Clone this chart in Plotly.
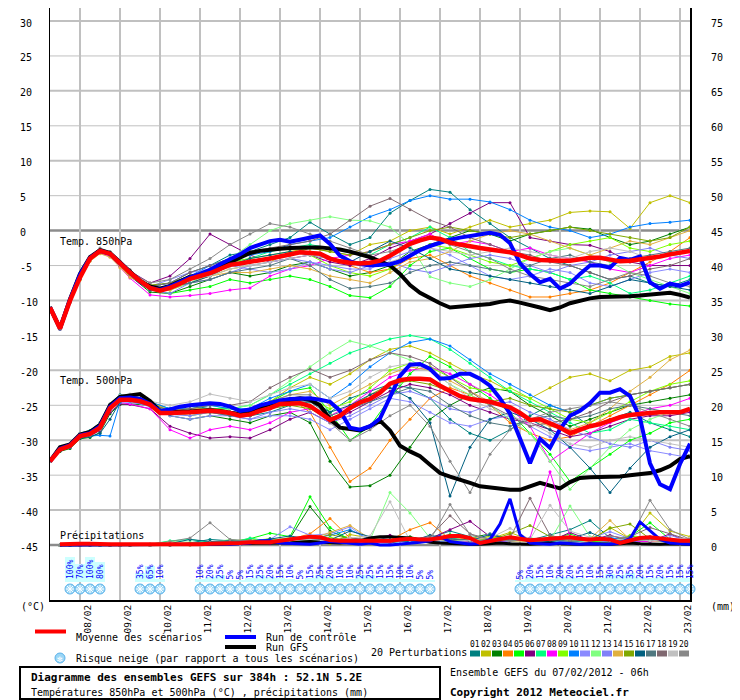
import plotly.graph_objects as go

# -------------------------------------------------
# données : diagramme des ensembles GEFS 07/02/2012 06h, 52.1N 5.2E
# -------------------------------------------------
DAY_LABELS = ["08/02", "09/02", "10/02", "11/02", "12/02", "13/02", "14/02", "15/02",
              "16/02", "17/02", "18/02", "19/02", "20/02", "21/02", "22/02", "23/02"]

# échéances des perturbations (h)
PERT_HOURS = [0, 6, 12, 18, 24, 30, 36, 42, 48, 60, 72, 84, 96, 108, 120, 132, 144, 156,
              168, 180, 192, 204, 216, 228, 240, 252, 264, 276, 288, 300, 312, 324, 336,
              348, 360, 372, 384]

PERT_COLORS = ["#008080", "#c0c000", "#008000", "#ff8000", "#00ff00", "#800080", "#00ff80",
               "#ff00ff", "#80ff00", "#0080ff", "#8a8aff", "#80ff80", "#8080f8", "#e0b040",
               "#80a800", "#006080", "#507880", "#806870", "#c0c0c0", "#888888"]

# moyenne / contrôle / GFS, pas de 6h à partir de 0h
MEAN_850 = [-11.0, -14.0, -10.0, -6.7, -4.0, -2.9, -3.3, -4.7, -6.0, -7.2,
            -8.2, -8.6, -8.2, -7.6, -6.9, -6.5, -6.1, -5.5, -4.9, -4.7,
            -4.5, -4.3, -4.0, -3.7, -3.4, -3.1, -3.2, -3.3, -4.0, -4.4,
            -4.6, -4.7, -4.6, -4.3, -3.6, -2.7, -1.9, -1.4, -1.0, -1.2,
            -1.7, -2.0, -2.3, -2.5, -2.7, -2.9, -3.1, -3.5, -4.0, -4.2,
            -4.3, -4.3, -4.3, -4.1, -3.9, -3.9, -4.2, -4.4, -4.3, -4.1,
            -4.0, -3.7, -3.4, -3.1, -2.9]
CONTROL_850 = [-11.0, -14.0, -9.9, -6.3, -3.9, -2.9, -3.3, -4.7, -6.1, -7.3,
               -8.2, -8.5, -8.0, -7.3, -6.7, -6.2, -5.6, -4.8, -4.1, -3.4,
               -2.5, -2.0, -1.5, -1.3, -1.6, -1.3, -1.0, -0.7, -1.9, -3.6,
               -4.4, -4.8, -5.0, -4.9, -4.8, -4.4, -3.6, -2.8, -2.2, -1.7,
               -1.3, -1.0, -0.8, -0.5, -0.3, -0.6, -1.8, -4.7, -6.2, -7.4,
               -6.9, -8.3, -7.6, -6.2, -5.0, -5.0, -5.3, -3.9, -4.2, -3.7,
               -7.4, -8.3, -7.6, -7.9, -7.4]
GFS_850 = [-11.0, -14.0, -9.8, -6.2, -3.8, -2.8, -3.2, -4.6, -6.0, -7.2,
           -8.0, -8.3, -7.9, -7.2, -6.6, -6.4, -6.0, -5.2, -4.5, -3.8,
           -3.2, -2.9, -2.7, -2.6, -2.5, -2.4, -2.4, -2.4, -2.5, -2.7,
           -3.0, -3.4, -3.8, -4.4, -5.0, -6.2, -7.8, -8.9, -9.7, -10.4,
           -11.0, -10.9, -10.7, -10.6, -10.5, -10.2, -10.0, -10.3, -10.6, -11.0,
           -11.4, -11.0, -10.4, -10.0, -9.7, -9.5, -9.5, -9.5, -9.4, -9.3,
           -9.2, -9.0, -8.9, -9.2, -9.6]

MEAN_500 = [-33.0, -31.3, -30.8, -29.4, -29.1, -28.2, -25.4, -24.2, -24.2, -24.4,
            -24.9, -26.1, -26.1, -26.1, -26.0, -25.9, -25.8, -25.9, -26.1, -26.5,
            -26.3, -25.8, -25.4, -24.8, -24.8, -24.7, -25.1, -26.2, -27.1, -26.5,
            -25.4, -24.6, -24.1, -23.2, -21.9, -21.4, -21.2, -21.2, -21.3, -22.2,
            -23.0, -23.7, -24.1, -24.3, -24.5, -24.9, -25.3, -26.1, -27.1, -27.0,
            -27.6, -28.2, -29.0, -28.5, -28.0, -27.7, -27.2, -26.7, -26.4, -26.2,
            -26.1, -26.0, -26.0, -26.0, -25.5]
CONTROL_500 = [-33.0, -31.2, -30.7, -29.3, -29.0, -28.0, -25.2, -24.0, -23.9, -24.1,
               -24.8, -25.8, -25.6, -25.2, -25.0, -24.8, -24.7, -24.8, -25.2, -25.8,
               -25.6, -25.0, -24.6, -24.3, -24.1, -24.0, -24.0, -24.2, -24.5, -25.8,
               -28.2, -28.5, -28.0, -26.9, -24.0, -20.8, -19.2, -19.1, -19.8, -21.2,
               -21.1, -20.5, -20.5, -21.2, -22.2, -24.0, -26.2, -29.7, -33.3, -29.8,
               -31.1, -28.4, -26.5, -25.8, -24.7, -23.2, -23.2, -22.7, -23.7, -26.8,
               -33.3, -36.3, -37.0, -33.4, -30.5]
GFS_500 = [-33.0, -31.0, -30.6, -29.2, -28.8, -27.8, -25.0, -23.8, -23.6, -23.4,
           -24.4, -25.8, -26.0, -26.0, -25.9, -25.8, -25.7, -25.8, -26.0, -26.3,
           -26.0, -25.3, -24.8, -24.6, -24.2, -24.0, -24.2, -25.0, -27.0, -28.2,
           -28.4, -28.6, -28.0, -27.2, -28.6, -30.8, -31.6, -32.3, -33.5, -34.7,
           -35.2, -35.6, -36.1, -36.6, -36.8, -37.0, -37.1, -37.1, -36.6, -36.1,
           -36.5, -36.9, -36.0, -35.4, -35.3, -35.3, -35.3, -35.2, -35.0, -34.9,
           -34.7, -34.3, -33.7, -32.7, -32.3]

# précipitations (mm), pas de 6h à partir de 6h
MEAN_PR = [0.1, 0.2, 0.2, 0.2, 0.1, 0.1, 0.1, 0.1, 0.1, 0.0,
           0.1, 0.1, 0.0, 0.0, 0.1, 0.2, 0.2, 0.3, 0.3, 0.4,
           0.4, 0.4, 0.6, 0.8, 0.9, 1.2, 1.1, 0.7, 0.6, 0.6,
           0.6, 0.6, 0.5, 0.6, 0.8, 0.9, 0.8, 0.8, 1.0, 1.3,
           1.3, 1.0, 0.3, 0.6, 0.9, 1.1, 0.9, 0.7, 0.8, 0.9,
           1.0, 1.1, 0.9, 0.8, 0.9, 0.8, 0.3, 0.7, 1.0, 1.1,
           0.9, 0.8, 0.6, 0.6]
CONTROL_PR = [0.0, 0.0, 0.0, 0.0, 0.0, 0.0, 0.0, 0.0, 0.0, 0.0,
              0.0, 0.0, 0.0, 0.0, 0.0, 0.1, 0.2, 0.1, 0.2, 0.3,
              0.6, 0.6, 0.3, 0.2, 0.2, 0.1, 0.3, 0.5, 0.4, 0.2,
              0.1, 0.3, 0.0, 0.0, 0.1, 0.2, 0.4, 0.6, 1.2, 0.5,
              0.3, 0.1, 0.2, 0.8, 3.0, 6.6, 1.5, 0.3, 0.2, 0.1,
              0.3, 0.2, 0.1, 0.2, 0.2, 0.1, 0.3, 0.9, 3.3, 2.0,
              0.8, 0.3, 0.2, 0.1]
GFS_PR = [0.0, 0.0, 0.0, 0.0, 0.1, 0.1, 0.1, 0.1, 0.1, 0.0,
          0.0, 0.0, 0.0, 0.0, 0.0, 0.1, 0.1, 0.2, 0.2, 0.3,
          0.3, 0.2, 0.2, 0.3, 0.4, 0.5, 0.4, 0.3, 0.3, 0.4,
          0.6, 1.0, 1.2, 1.2, 1.1, 1.0, 0.7, 0.4, 0.3, 0.2,
          0.2, 0.1, 0.1, 0.2, 0.3, 0.2, 0.1, 0.1, 0.2, 0.3,
          0.2, 0.1, 0.1, 0.2, 0.1, 0.1, 0.2, 0.3, 0.2, 0.1,
          0.1, 0.2, 0.1, 0.1]

# 20 perturbations, température 850 hPa aux échéances PERT_HOURS
T850_MEMBERS = [
    [-11.0, -14.0, -10.2, -6.8, -4.1, -3.0, -3.5, -4.9, -6.3, -8.0, -7.5, -6.0, -5.0, -3.5, -3.0, -2.0, -1.0, 1.2, -0.5, -2.0, -1.0, 2.5, 4.3, 5.9, 5.5, 3.0, 1.0, -1.0, -2.5, -4.0, -5.0, -6.0, -7.0, -6.5, -7.5, -8.0, -7.0],
    [-11.0, -13.8, -9.8, -6.5, -3.8, -2.7, -3.1, -4.5, -5.8, -8.5, -8.0, -7.0, -6.5, -5.5, -5.0, -4.5, -3.0, -2.5, -3.0, -3.5, -2.0, -1.5, 0.0, 0.5, -0.5, 0.5, 1.5, 0.5, 1.0, 1.5, 2.6, 2.8, 2.7, 0.3, 4.0, 5.0, 4.0],
    [-11.0, -14.1, -10.3, -7.0, -4.3, -3.2, -3.6, -5.1, -6.5, -8.8, -9.0, -8.0, -7.0, -6.0, -6.5, -6.0, -5.0, -4.5, -5.5, -6.5, -6.0, -5.0, -3.0, -2.0, -1.0, 0.0, -0.5, -1.5, -0.5, 0.0, 0.5, 0.2, -1.0, -2.0, -1.5, -0.5, 0.5],
    [-11.0, -13.9, -9.9, -6.6, -3.9, -2.8, -3.4, -5.0, -6.6, -8.0, -8.5, -7.5, -6.5, -5.0, -4.5, -4.0, -3.5, -3.0, -4.0, -5.0, -6.0, -5.5, -4.0, -3.5, -5.0, -6.5, -7.5, -8.5, -9.5, -9.5, -9.0, -8.5, -7.5, -6.0, -4.5, -3.0, -1.0],
    [-11.0, -14.0, -10.0, -6.7, -4.0, -2.9, -3.2, -4.6, -5.9, -8.5, -9.0, -8.5, -8.0, -7.0, -7.5, -7.0, -6.5, -7.0, -8.0, -9.3, -9.6, -8.0, -5.0, -3.0, -2.5, -4.0, -5.5, -6.0, -5.5, -6.0, -7.0, -8.5, -9.0, -9.5, -10.0, -10.5, -10.8],
    [-11.0, -14.0, -10.1, -6.9, -4.2, -3.1, -3.4, -4.7, -5.8, -7.5, -6.5, -4.0, -0.5, -2.0, -3.5, -4.5, -4.0, -3.5, -4.5, -5.0, -4.0, -2.5, -1.5, -0.5, 1.0, 2.5, 4.0, 4.0, -1.0, -1.5, -2.0, -2.1, -3.0, -4.5, -5.0, -5.0, -5.0],
    [-11.0, -13.9, -9.9, -6.6, -3.9, -2.7, -3.2, -4.7, -6.1, -8.0, -8.0, -6.5, -5.5, -4.5, -4.0, -3.0, -2.5, -2.0, -2.5, -3.0, -3.5, -2.0, -1.0, 0.5, -1.0, -3.0, -4.0, -5.0, -5.5, -6.0, -7.0, -6.5, -7.5, -9.0, -8.5, -7.5, -6.5],
    [-11.0, -14.1, -10.2, -6.9, -4.2, -3.2, -3.7, -5.2, -6.8, -9.2, -9.5, -9.3, -9.0, -8.5, -8.2, -6.5, -5.5, -5.0, -4.0, -3.5, -3.0, -2.0, -1.5, -0.5, -2.0, -1.5, -2.0, -3.0, -2.5, -3.5, -4.0, -4.5, -5.5, -6.0, -5.0, -4.0, -3.5],
    [-11.0, -14.0, -10.0, -6.6, -3.9, -2.8, -3.2, -4.5, -5.7, -8.5, -8.0, -7.0, -6.0, -4.5, -4.0, -3.5, -3.0, -3.5, -5.0, -6.0, -6.5, -5.5, -3.5, -2.0, -2.5, -3.5, -4.5, -5.0, -4.0, -3.0, -2.0, -1.5, -1.0, -2.5, -3.0, -2.0, -1.5],
    [-11.0, -14.0, -10.1, -6.8, -4.0, -2.9, -3.3, -4.6, -5.9, -8.0, -7.5, -6.5, -5.0, -4.0, -3.5, -3.0, -2.0, -1.5, -1.0, 0.5, 2.0, 3.0, 4.3, 5.0, 4.5, 4.5, 4.1, 3.0, 1.5, 0.5, 0.0, -1.0, -0.5, 0.5, 1.0, 1.2, 1.5],
    [-11.0, -13.9, -9.8, -6.5, -3.8, -2.8, -3.3, -4.8, -6.2, -8.0, -7.0, -6.0, -5.5, -5.0, -5.5, -6.0, -5.5, -4.5, -5.0, -5.5, -5.5, -4.0, -3.0, -2.5, -3.5, -5.0, -6.5, -7.0, -6.5, -5.5, -6.0, -7.5, -8.0, -7.0, -6.0, -5.5, -6.0],
    [-11.0, -14.0, -10.0, -6.7, -4.1, -3.0, -3.4, -4.8, -6.1, -8.3, -8.5, -7.5, -6.0, -4.0, -2.0, 0.0, 1.0, 1.5, 2.0, 1.5, 1.4, 0.5, -2.0, -6.6, -7.5, -8.0, -7.0, -5.5, -4.0, -3.0, -2.5, -3.5, -4.5, -6.0, -7.0, -8.0, -9.0],
    [-11.0, -14.1, -10.1, -6.8, -4.0, -2.9, -3.2, -4.5, -5.8, -8.5, -9.0, -7.5, -7.0, -6.0, -5.0, -4.5, -4.0, -4.5, -5.5, -6.0, -5.0, -4.5, -5.5, -6.0, -5.0, -4.0, -3.5, -4.0, -5.0, -6.0, -5.0, -4.5, -3.5, -3.0, -2.5, -3.5, -4.0],
    [-11.0, -14.0, -10.3, -7.1, -4.4, -3.3, -3.8, -5.3, -6.7, -8.0, -8.5, -7.0, -6.5, -6.0, -6.0, -5.5, -5.0, -5.5, -6.5, -7.0, -7.5, -6.0, -4.5, -4.0, -3.0, -1.5, -0.5, 0.0, -0.5, -1.5, -2.5, -3.5, -2.5, -1.5, -2.0, -1.0, 0.0],
    [-11.0, -13.9, -9.9, -6.6, -3.9, -2.9, -3.3, -4.7, -6.0, -7.8, -7.5, -6.5, -5.5, -4.5, -4.5, -4.0, -3.5, -2.5, -3.0, -3.5, -3.0, -2.0, -1.0, 0.0, 0.5, 0.0, -0.5, -1.0, -0.5, 0.0, 0.5, 0.0, -0.5, -1.0, -1.5, -1.0, 0.5],
    [-11.0, -14.0, -10.0, -6.7, -4.0, -3.0, -3.3, -4.6, -5.9, -8.5, -8.0, -7.5, -6.5, -5.0, -4.0, -3.5, -3.0, -3.5, -4.0, -4.5, -3.0, -1.5, -2.5, -4.0, -5.5, -6.0, -6.5, -7.0, -7.5, -8.0, -8.5, -9.0, -8.0, -7.0, -7.5, -8.0, -8.5],
    [-11.0, -14.1, -10.2, -6.9, -4.1, -3.0, -3.5, -4.9, -6.2, -8.2, -8.0, -7.5, -7.0, -6.0, -5.5, -5.0, -4.0, -5.0, -7.0, -8.3, -8.0, -7.5, -6.0, -5.0, -4.5, -5.0, -5.5, -6.0, -5.0, -4.0, -3.5, -4.5, -5.0, -4.0, -3.5, -3.0, -2.5],
    [-11.0, -13.9, -9.9, -6.6, -3.8, -2.7, -3.1, -4.4, -5.6, -8.0, -7.5, -6.0, -5.0, -4.0, -3.0, -2.5, -2.0, -1.5, -0.5, 1.5, 3.5, 4.6, 3.0, 1.5, 0.5, -1.0, -2.0, -3.0, -3.5, -4.5, -5.0, -6.0, -7.0, -6.5, -5.5, -5.0, -4.0],
    [-11.0, -14.0, -10.0, -6.7, -3.9, -2.8, -3.2, -4.6, -5.9, -8.0, -8.0, -7.0, -6.5, -5.5, -5.0, -4.5, -4.0, -3.5, -4.0, -4.5, -5.0, -4.5, -3.5, -2.5, -3.0, -3.5, -3.0, -2.5, -3.0, -3.5, -4.0, -3.0, -2.5, -3.0, -4.0, -3.5, -3.0],
    [-11.0, -14.0, -10.1, -6.8, -3.7, -2.5, -3.0, -4.6, -6.0, -7.5, -7.0, -5.5, -4.0, -2.0, -0.5, 1.0, 0.5, -0.5, -1.5, -2.5, -3.5, -3.0, -2.0, -1.0, -2.0, -3.0, -4.0, -5.5, -6.5, -7.0, -7.5, -8.0, -7.0, -6.0, -6.5, -7.5, -8.0],
]

# 20 perturbations, température 500 hPa aux échéances PERT_HOURS
T500_MEMBERS = [
    [-33.0, -31.0, -30.6, -29.0, -28.6, -27.5, -24.8, -23.5, -23.6, -24.5, -25.5, -25.0, -25.5, -26.0, -26.5, -26.0, -25.0, -24.5, -26.0, -24.0, -23.0, -22.0, -22.5, -24.0, -27.0, -29.0, -30.0, -28.5, -26.5, -25.0, -26.0, -28.0, -27.0, -26.0, -27.5, -28.5, -29.5],
    [-33.0, -31.4, -30.9, -29.5, -29.3, -28.5, -25.8, -24.5, -24.4, -25.0, -26.0, -26.5, -26.0, -26.5, -26.0, -24.5, -22.5, -21.0, -22.0, -20.5, -18.5, -17.0, -16.5, -17.5, -19.0, -20.5, -21.5, -23.0, -24.0, -22.5, -21.0, -20.5, -21.5, -20.0, -19.5, -18.0, -17.5],
    [-33.0, -31.6, -31.2, -29.8, -29.6, -28.9, -26.2, -24.9, -24.8, -25.0, -26.5, -27.0, -26.5, -27.0, -27.5, -26.5, -26.0, -27.5, -33.0, -36.7, -36.5, -35.0, -31.0, -27.0, -25.0, -23.5, -22.5, -23.0, -25.0, -26.5, -28.0, -27.0, -26.0, -25.0, -24.5, -24.0, -23.5],
    [-33.0, -31.2, -30.7, -29.3, -29.0, -28.0, -25.2, -24.0, -24.1, -24.8, -26.0, -26.0, -25.5, -26.0, -26.5, -25.0, -24.0, -26.0, -31.0, -35.9, -34.0, -30.0, -27.0, -24.0, -22.5, -23.5, -25.0, -27.5, -29.0, -30.0, -29.5, -28.0, -26.5, -25.0, -23.5, -22.0, -20.0],
    [-33.0, -31.3, -30.8, -29.4, -29.2, -28.4, -25.6, -24.4, -24.3, -24.6, -25.8, -26.0, -25.5, -25.5, -26.0, -24.5, -23.0, -22.5, -26.0, -30.0, -28.0, -24.0, -20.5, -18.0, -19.5, -22.0, -24.0, -26.0, -29.0, -32.0, -35.9, -34.0, -32.0, -30.0, -29.0, -27.5, -27.0],
    [-33.0, -31.5, -31.0, -29.6, -29.4, -28.6, -26.0, -24.8, -24.9, -25.5, -28.0, -29.0, -29.7, -29.5, -29.7, -28.5, -27.0, -26.0, -27.5, -26.0, -24.5, -23.0, -22.0, -22.5, -23.5, -25.0, -26.0, -27.0, -27.5, -28.5, -29.5, -29.0, -28.0, -27.0, -26.5, -26.5, -26.0],
    [-33.0, -31.1, -30.6, -29.2, -28.9, -27.9, -25.1, -23.9, -23.9, -24.8, -25.5, -25.5, -25.0, -25.5, -25.0, -23.5, -22.0, -20.5, -19.0, -17.5, -16.5, -15.5, -15.0, -15.5, -17.0, -19.0, -21.0, -23.0, -24.5, -26.0, -27.5, -29.0, -28.5, -27.0, -27.5, -28.0, -28.5],
    [-33.0, -31.4, -30.9, -29.5, -29.2, -28.3, -25.6, -24.6, -24.8, -25.5, -28.5, -29.7, -28.5, -28.0, -28.5, -27.5, -26.0, -25.5, -26.5, -25.0, -23.0, -21.0, -20.0, -19.5, -20.5, -22.0, -23.5, -25.5, -28.0, -33.0, -31.0, -29.0, -27.5, -26.5, -25.5, -25.0, -24.0],
    [-33.0, -31.2, -30.7, -29.3, -29.0, -28.1, -25.3, -24.1, -24.1, -24.7, -25.8, -25.5, -25.5, -26.0, -26.0, -25.0, -24.5, -24.0, -25.5, -24.5, -22.5, -20.0, -19.0, -19.5, -21.0, -22.5, -23.0, -22.5, -24.0, -25.5, -27.0, -27.5, -26.0, -24.5, -23.0, -22.0, -21.5],
    [-33.0, -31.3, -30.9, -29.6, -29.4, -29.3, -29.4, -24.6, -24.0, -24.5, -25.5, -25.5, -25.0, -25.5, -25.5, -24.0, -23.0, -22.0, -24.0, -22.0, -19.5, -17.5, -16.0, -15.5, -16.5, -18.5, -20.5, -22.0, -23.5, -25.0, -26.0, -25.0, -24.0, -23.5, -23.0, -22.5, -22.0],
    [-33.0, -31.4, -31.0, -29.6, -29.3, -28.4, -25.7, -24.5, -24.6, -25.0, -26.5, -27.0, -26.5, -26.5, -27.0, -26.5, -26.5, -27.0, -28.5, -27.0, -25.5, -24.0, -24.5, -26.0, -27.5, -28.0, -27.0, -26.5, -28.0, -29.5, -31.0, -31.5, -31.0, -30.5, -31.5, -32.0, -32.5],
    [-33.0, -31.2, -30.7, -29.2, -28.9, -28.0, -25.2, -24.1, -24.2, -24.8, -26.0, -26.5, -26.0, -25.5, -25.0, -23.5, -21.5, -19.5, -17.5, -15.8, -16.5, -17.5, -18.5, -20.0, -22.0, -23.5, -25.0, -27.0, -29.0, -33.0, -37.0, -34.0, -31.0, -28.5, -27.0, -26.0, -25.5],
    [-33.0, -31.3, -30.8, -29.4, -29.1, -28.2, -25.5, -24.3, -24.4, -25.2, -26.3, -26.5, -26.0, -26.5, -27.0, -26.0, -25.5, -26.0, -27.5, -26.5, -25.0, -23.5, -23.0, -24.0, -25.5, -26.0, -25.0, -24.5, -26.0, -27.0, -28.5, -29.5, -30.5, -31.0, -30.0, -31.0, -31.5],
    [-33.0, -31.1, -30.6, -29.1, -28.8, -27.8, -25.0, -23.8, -23.8, -24.6, -25.7, -25.5, -25.5, -26.0, -26.0, -24.5, -23.5, -23.0, -25.0, -23.5, -22.0, -20.5, -19.5, -20.0, -21.5, -23.0, -24.5, -25.5, -27.0, -28.0, -28.5, -27.5, -25.5, -23.0, -21.0, -18.5, -17.1],
    [-33.0, -31.3, -30.8, -29.5, -29.2, -28.4, -25.5, -24.2, -24.3, -24.9, -26.0, -26.0, -25.5, -26.0, -26.5, -25.5, -25.0, -25.5, -27.0, -25.5, -23.5, -22.0, -21.5, -22.0, -23.0, -24.0, -24.5, -24.0, -25.0, -25.5, -26.0, -25.0, -24.0, -23.5, -23.0, -22.5, -22.0],
    [-33.0, -31.5, -31.0, -29.7, -29.5, -29.0, -27.0, -24.5, -24.2, -25.0, -26.3, -26.0, -25.5, -26.0, -26.5, -25.5, -24.5, -24.0, -26.0, -25.0, -23.5, -22.5, -24.0, -27.5, -38.0, -31.0, -27.0, -26.0, -27.0, -28.5, -31.0, -34.0, -37.5, -34.0, -31.0, -29.5, -28.5],
    [-33.0, -31.3, -30.9, -29.5, -29.2, -28.3, -25.5, -24.3, -24.4, -25.0, -26.2, -26.0, -26.0, -26.5, -26.5, -25.5, -24.5, -24.5, -26.5, -25.5, -24.5, -23.5, -22.5, -23.0, -25.0, -26.5, -27.5, -28.0, -27.0, -26.5, -27.0, -26.5, -25.5, -25.0, -25.5, -26.0, -26.5],
    [-33.0, -31.2, -30.7, -29.3, -29.0, -28.0, -25.1, -23.9, -23.7, -24.7, -25.8, -25.5, -25.0, -25.0, -24.5, -22.5, -21.0, -19.8, -21.0, -20.0, -18.5, -17.5, -18.0, -19.0, -21.0, -23.0, -25.0, -26.5, -28.0, -27.5, -27.0, -26.0, -24.5, -23.5, -23.0, -22.5, -22.0],
    [-33.0, -31.0, -30.5, -29.0, -28.7, -27.6, -24.8, -23.6, -23.4, -24.4, -25.0, -24.5, -23.4, -24.0, -24.5, -23.5, -22.5, -22.0, -24.0, -23.0, -21.0, -19.5, -19.0, -20.0, -22.0, -24.0, -25.5, -26.5, -27.5, -29.0, -30.5, -31.0, -30.0, -29.5, -30.0, -30.5, -31.0],
    [-33.0, -31.4, -30.9, -29.5, -29.3, -28.5, -25.7, -24.4, -24.2, -25.0, -26.0, -26.0, -25.5, -26.0, -25.5, -24.5, -23.5, -23.5, -27.5, -30.0, -28.5, -26.5, -25.0, -28.0, -33.0, -37.5, -32.0, -28.5, -27.0, -26.0, -25.5, -25.0, -24.5, -25.0, -26.0, -27.0, -28.0],
]

# 20 perturbations, précipitations (mm) aux échéances PERT_HOURS[1:]
PR_MEMBERS = [
    [0.0, 0.1, 0.2, 0.1, 0.0, 0.0, 0.1, 0.0, 0.0, 0.0, 0.3, 0.8, 0.6, 0.4, 0.9, 0.5, 0.3, 0.6, 0.8, 0.4, 0.3, 0.7, 1.0, 2.0, 1.2, 0.6, 0.9, 0.7, 1.5, 2.2, 3.5, 1.0, 0.6, 1.2, 0.8, 0.5],
    [0.0, 0.1, 0.1, 0.0, 0.0, 0.0, 0.0, 0.1, 0.0, 0.2, 0.1, 0.3, 0.5, 0.9, 0.5, 0.3, 0.4, 0.2, 1.5, 1.0, 0.6, 0.8, 0.5, 0.3, 0.6, 0.9, 1.8, 0.7, 0.5, 1.0, 0.6, 2.5, 0.9, 4.6, 2.0, 1.2],
    [0.0, 0.0, 0.1, 0.1, 0.0, 0.0, 0.0, 0.0, 0.1, 0.2, 0.2, 0.2, 0.6, 0.3, 0.5, 1.0, 5.5, 2.0, 0.8, 0.5, 0.4, 1.2, 0.6, 0.4, 1.0, 1.6, 0.8, 0.5, 0.3, 0.6, 0.9, 0.4, 1.3, 0.7, 0.6, 0.9],
    [0.0, 0.1, 0.0, 0.0, 0.0, 0.0, 0.0, 0.0, 0.0, 0.1, 0.0, 0.1, 0.2, 0.4, 0.6, 0.8, 1.6, 3.8, 1.0, 0.6, 0.7, 2.2, 3.2, 0.8, 0.5, 1.3, 0.9, 0.6, 1.1, 0.8, 0.5, 0.4, 1.0, 0.6, 0.8, 0.7],
    [0.0, 0.0, 0.1, 0.1, 0.0, 0.0, 0.0, 0.0, 0.0, 0.0, 0.1, 0.2, 0.3, 0.9, 1.7, 1.2, 6.9, 2.5, 0.7, 0.9, 0.6, 0.4, 0.8, 1.5, 0.9, 0.6, 0.5, 1.0, 0.7, 1.6, 0.5, 0.4, 1.2, 3.2, 0.8, 0.4],
    [0.0, 0.1, 0.0, 0.0, 0.0, 0.1, 0.0, 0.0, 0.0, 0.0, 0.1, 0.2, 0.1, 0.4, 0.3, 0.6, 0.8, 0.5, 0.6, 0.9, 1.4, 0.5, 0.9, 2.2, 3.4, 1.2, 0.6, 0.8, 0.5, 1.8, 0.7, 1.4, 0.6, 0.5, 1.6, 0.3],
    [0.0, 0.1, 0.2, 0.2, 0.1, 0.0, 0.0, 0.0, 0.1, 0.6, 0.8, 0.4, 0.3, 1.0, 0.5, 0.8, 1.2, 0.9, 0.6, 0.5, 0.8, 0.6, 0.5, 1.0, 0.7, 0.4, 0.6, 0.9, 0.5, 0.4, 0.7, 0.6, 0.5, 0.8, 0.4, 0.6],
    [0.0, 0.0, 0.0, 0.0, 0.0, 0.0, 0.0, 0.0, 0.0, 0.0, 0.1, 0.2, 0.2, 0.3, 0.2, 0.6, 0.4, 0.9, 0.5, 0.3, 0.4, 0.6, 0.8, 0.5, 0.4, 0.3, 0.6, 1.0, 10.5, 1.2, 0.6, 0.8, 0.4, 0.5, 0.7, 0.3],
    [0.0, 0.0, 0.1, 0.0, 0.0, 0.0, 0.0, 0.0, 0.0, 0.1, 0.1, 0.3, 0.2, 0.6, 0.9, 0.7, 0.5, 1.1, 0.6, 0.9, 0.7, 0.5, 0.9, 0.6, 0.8, 1.2, 0.6, 0.7, 1.0, 0.8, 0.6, 0.5, 1.4, 0.9, 0.6, 0.4],
    [0.0, 0.0, 0.0, 0.0, 0.0, 0.0, 0.0, 0.0, 0.0, 0.0, 0.0, 0.1, 0.2, 0.5, 0.4, 0.6, 0.9, 1.4, 2.2, 0.8, 0.6, 0.5, 0.7, 0.4, 0.9, 0.6, 0.8, 0.5, 0.7, 0.9, 0.6, 1.1, 0.5, 0.8, 0.9, 0.6],
    [0.0, 0.0, 0.0, 0.1, 0.0, 0.0, 0.0, 0.0, 0.0, 0.1, 0.2, 0.1, 0.4, 0.6, 0.8, 2.6, 1.4, 1.6, 2.6, 0.6, 0.5, 0.8, 1.2, 0.9, 0.6, 1.6, 0.7, 0.9, 0.6, 0.8, 1.0, 1.9, 0.9, 1.1, 0.9, 0.7],
    [0.0, 0.0, 0.1, 0.1, 0.2, 0.1, 0.0, 0.0, 0.1, 0.5, 0.4, 0.3, 0.8, 0.5, 0.6, 1.1, 0.7, 0.9, 0.6, 0.7, 7.5, 4.6, 1.0, 0.6, 0.8, 0.5, 1.2, 0.9, 0.6, 5.6, 1.2, 0.8, 0.6, 0.9, 0.5, 0.6],
    [0.0, 0.0, 0.0, 0.0, 0.0, 0.0, 0.0, 0.0, 0.0, 0.0, 0.1, 0.2, 0.3, 0.4, 0.6, 0.5, 0.9, 0.7, 0.8, 0.4, 0.6, 0.9, 0.5, 0.6, 0.4, 0.7, 0.5, 0.9, 0.6, 0.5, 0.8, 0.4, 0.9, 0.6, 1.4, 0.5],
    [0.0, 0.0, 0.0, 0.0, 0.0, 0.0, 0.0, 0.0, 0.0, 0.1, 0.0, 0.2, 0.2, 0.4, 0.7, 0.5, 0.8, 1.8, 2.8, 0.9, 0.7, 0.6, 0.9, 0.7, 1.1, 0.8, 0.6, 0.5, 0.7, 0.6, 0.9, 3.5, 0.8, 0.6, 0.5, 1.0],
    [0.0, 0.0, 0.0, 0.0, 0.0, 0.0, 0.0, 0.0, 0.0, 0.0, 0.1, 0.1, 0.3, 0.4, 0.5, 0.8, 0.6, 1.5, 0.9, 0.7, 0.6, 1.0, 0.8, 0.6, 0.9, 0.7, 1.6, 2.8, 1.2, 1.0, 0.7, 2.4, 3.0, 0.9, 0.6, 0.5],
    [0.0, 0.0, 0.1, 0.0, 0.0, 0.0, 0.0, 0.0, 0.1, 0.2, 0.8, 0.5, 0.6, 0.4, 0.9, 1.3, 0.8, 0.7, 2.0, 1.2, 0.8, 0.5, 1.4, 0.9, 0.6, 1.5, 0.8, 0.7, 0.5, 0.9, 1.8, 0.6, 0.8, 0.7, 0.5, 0.6],
    [0.0, 0.0, 0.0, 0.0, 0.0, 0.0, 0.0, 0.0, 0.0, 0.1, 0.3, 0.4, 0.6, 0.7, 0.5, 0.4, 0.9, 0.6, 1.0, 0.8, 0.5, 0.7, 0.6, 0.9, 0.7, 0.5, 0.8, 0.6, 0.9, 0.5, 0.7, 0.6, 1.0, 0.8, 0.6, 0.9],
    [0.0, 0.0, 0.0, 0.0, 0.0, 0.0, 0.0, 0.0, 0.0, 0.0, 0.1, 0.2, 0.3, 0.2, 0.4, 0.6, 0.5, 0.7, 0.9, 0.5, 0.6, 0.8, 1.2, 4.2, 1.6, 0.8, 1.0, 6.7, 1.4, 0.7, 0.9, 0.6, 1.2, 2.5, 1.6, 0.7],
    [0.0, 0.0, 0.0, 0.0, 0.0, 0.0, 0.0, 0.1, 0.0, 0.1, 0.1, 0.3, 0.2, 0.3, 0.4, 0.6, 0.8, 0.5, 1.0, 1.3, 6.2, 0.6, 0.8, 0.5, 0.7, 1.0, 2.4, 0.8, 5.7, 2.0, 1.1, 0.7, 0.9, 0.6, 0.8, 1.0],
    [0.0, 0.0, 0.1, 0.1, 0.1, 0.0, 0.0, 0.0, 0.1, 0.5, 1.0, 3.2, 0.8, 0.6, 0.5, 0.9, 1.1, 0.7, 0.6, 0.8, 0.6, 0.9, 0.7, 5.8, 1.5, 0.8, 0.6, 0.9, 0.7, 0.8, 0.6, 1.3, 0.9, 6.4, 2.2, 0.8],
]

# risque neige (% des scénarios)
SNOW_HOURS = [12, 18, 24, 30, 54, 60, 66,
              90, 96, 102, 108, 114, 120, 126, 132, 138, 144, 150, 156, 162, 168, 174, 180,
              186, 192, 198, 204, 210, 216, 222, 228,
              282, 288, 294, 300, 306, 312, 318, 324, 330, 336, 342, 348, 354, 360, 366,
              372, 378, 384]
SNOW_PCT = [100, 70, 100, 80, 35, 65, 10,
            10, 20, 25, 5, 5, 15, 25, 20, 15, 10, 5, 15, 25, 20, 10, 10,
            25, 25, 15, 15, 10, 10, 5, 5,
            5, 20, 15, 10, 20, 20, 15, 10, 15, 30, 25, 35, 20, 15, 20, 15,
            15, 15]

# -------------------------------------------------
# géométrie : coordonnées de l'image de référence (pixels) ;
# la page ajoute une marge de 8 px autour de la figure
# -------------------------------------------------
PAGE_MARGIN = 8
W, H = 740 - PAGE_MARGIN, 700 - PAGE_MARGIN
REF_L, REF_R, REF_T, REF_B = 50, 690, PAGE_MARGIN, 600
PX_PER_DEG = 6.987
Y_TOP = 30 + (21 - REF_T) / PX_PER_DEG
Y_BOT = 30 - (REF_B - 21) / PX_PER_DEG
SNOW_BASE_PX, SNOW_PX_PER_PCT = 581.5, 0.244
FONT = "DejaVu Sans Mono"
FLAKE_FILL, FLAKE_EDGE = "#9ad6f6", "#5cb2ea"


def px(x):
    return (x - REF_L) / (REF_R - REF_L)


def py(y):
    return (REF_B - y) / (REF_B - REF_T)


def snow_y(ypx):
    return (SNOW_BASE_PX - ypx) / SNOW_PX_PER_PCT


fig = go.Figure()

# perturbations
for vals, col in zip(T850_MEMBERS + T500_MEMBERS, PERT_COLORS + PERT_COLORS):
    fig.add_trace(go.Scatter(x=PERT_HOURS, y=vals, mode="lines+markers",
                             line=dict(color=col, width=1),
                             marker=dict(color=col, size=3),
                             hoverinfo="skip"))
for vals, col in zip(PR_MEMBERS, PERT_COLORS):
    fig.add_trace(go.Scatter(x=PERT_HOURS[1:], y=vals, yaxis="y2", mode="lines+markers",
                             line=dict(color=col, width=1),
                             marker=dict(color=col, size=3),
                             hoverinfo="skip"))

# GFS, contrôle, moyenne
for series, col, wd in [(GFS_850, "black", 4), (CONTROL_850, "#0000ff", 4), (MEAN_850, "#ff0000", 4.5),
                        (GFS_500, "black", 4), (CONTROL_500, "#0000ff", 4), (MEAN_500, "#ff0000", 4.5)]:
    fig.add_trace(go.Scatter(x=[6 * i for i in range(len(series))], y=series, mode="lines",
                             line=dict(color=col, width=wd), hoverinfo="skip"))
for series, col, wd in [(GFS_PR, "black", 3), (CONTROL_PR, "#0000ff", 3), (MEAN_PR, "#ff0000", 4)]:
    fig.add_trace(go.Scatter(x=[6 * (i + 1) for i in range(len(series))], y=series, yaxis="y2",
                             mode="lines", line=dict(color=col, width=wd), hoverinfo="skip"))

# risque neige : barres + flocons
fig.add_trace(go.Bar(x=SNOW_HOURS, y=SNOW_PCT, width=6, yaxis="y3",
                     marker=dict(color="#ccffff", line=dict(width=0)), hoverinfo="skip"))
flake_y = [snow_y(589)] * len(SNOW_HOURS)
fig.add_trace(go.Scatter(x=SNOW_HOURS, y=flake_y, yaxis="y3", mode="markers", cliponaxis=False,
                         marker=dict(symbol="circle", size=10, color=FLAKE_FILL,
                                     line=dict(color=FLAKE_EDGE, width=1)), hoverinfo="skip"))
fig.add_trace(go.Scatter(x=SNOW_HOURS, y=flake_y, yaxis="y3", mode="markers", cliponaxis=False,
                         marker=dict(symbol="asterisk", size=7, color="white",
                                     line=dict(color="white", width=1)), hoverinfo="skip"))

shapes = []
annotations = []

# grille horizontale + graduations
for v in range(-45, 31, 5):
    if v in (0, -45):
        shapes.append(dict(type="line", xref="paper", yref="y", x0=0, x1=1, y0=v, y1=v,
                           line=dict(color="#8c8c8c", width=2.5), layer="below"))
    else:
        shapes.append(dict(type="line", xref="paper", yref="y", x0=0, x1=1, y0=v, y1=v,
                           line=dict(color="#c0c0c0", width=2 if v % 10 == 0 else 1), layer="below"))
    annotations.append(dict(xref="paper", yref="y", x=px(18), y=v, yshift=-2, text=str(v),
                            xanchor="left", showarrow=False, font=dict(size=10)))
    annotations.append(dict(xref="paper", yref="y", x=px(709), y=v, yshift=-2, text=str(v + 45),
                            xanchor="left", showarrow=False, font=dict(size=10)))

# dates
for i, lab in enumerate(DAY_LABELS):
    annotations.append(dict(xref="x", yref="paper", x=18 + 24 * i, xshift=7, y=py(603),
                            text=lab, textangle=-90, xanchor="center", yanchor="top",
                            showarrow=False, font=dict(size=9.5)))

# pourcentages neige
for h, p in zip(SNOW_HOURS, SNOW_PCT):
    annotations.append(dict(xref="x", yref="y3", x=h, y=0, text=f"{p}%", textangle=-90,
                            xanchor="center", yanchor="bottom", showarrow=False,
                            font=dict(size=8, color="#0000ff")))

# étiquettes des zones
annotations += [
    dict(xref="paper", yref="y", x=px(58), y=0, yshift=-3, text="Temp. 850hPa",
         xanchor="left", yanchor="top", showarrow=False, font=dict(size=10)),
    dict(xref="paper", yref="y", x=px(58), y=-20, yshift=-3, text="Temp. 500hPa",
         xanchor="left", yanchor="top", showarrow=False, font=dict(size=10)),
    dict(xref="paper", yref="y", x=px(58), y=-45, yshift=2, text="Précipitations",
         xanchor="left", yanchor="bottom", showarrow=False, font=dict(size=10)),
]


def label(x, y, text, size=10, bold=False, color="black"):
    annotations.append(dict(xref="paper", yref="paper", x=px(x), y=py(y),
                            text=f"<b>{text}</b>" if bold else text,
                            xanchor="left", yanchor="middle", showarrow=False,
                            font=dict(size=size, color=color)))


label(19, 606.5, "(°C)")
label(709, 606.5, "(mm)")
label(74, 637, "Moyenne des scénarios")
label(264, 637, "Run de contrôle")
label(264, 647, "Run GFS")
label(74, 659, "Risque neige (par rapport a tous les scénarios)")
label(369, 652.5, "20 Perturbations")
label(29, 677, "Diagramme des ensembles GEFS sur 384h : 52.1N 5.2E", size=11, bold=True)
label(29, 692.5, "Températures 850hPa et 500hPa (°C) , précipitations (mm)")
label(448, 672.5, "Ensemble GEFS du 07/02/2012 - 06h")
label(448, 692, "Copyright 2012 Meteociel.fr", size=11, bold=True)

# légende : flocon
shapes.append(dict(type="circle", xref="paper", yref="paper", x0=px(55), x1=px(65),
                   y0=py(663), y1=py(653), fillcolor=FLAKE_FILL, line=dict(color=FLAKE_EDGE, width=1)))
annotations.append(dict(xref="paper", yref="paper", x=px(60), y=py(658.5), text="✻",
                        xanchor="center", yanchor="middle", showarrow=False,
                        font=dict(size=9, color="white")))

# légende : traits
for x0, x1, y, col in [(35, 66, 631.5, "#ff0000"), (225, 256, 637, "#0000ff"), (225, 256, 647, "black")]:
    shapes.append(dict(type="line", xref="paper", yref="paper", x0=px(x0), x1=px(x1),
                       y0=py(y), y1=py(y), line=dict(color=col, width=4)))

# légende : perturbations
for i, col in enumerate(PERT_COLORS):
    x0 = 470 + 11 * i
    shapes.append(dict(type="rect", xref="paper", yref="paper", x0=px(x0), x1=px(x0 + 10),
                       y0=py(656.5), y1=py(650.5), fillcolor=col, line=dict(width=0)))
    annotations.append(dict(xref="paper", yref="paper", x=px(x0 + 5), y=py(644), text=f"{i + 1:02d}",
                            xanchor="center", yanchor="middle", showarrow=False,
                            font=dict(size=8)))

# cadre du titre
shapes.append(dict(type="rect", xref="paper", yref="paper", x0=px(20), x1=px(440),
                   y0=py(699), y1=py(667), line=dict(color="black", width=2)))

fig.update_layout(
    width=W, height=H, template="none",
    margin=dict(l=REF_L - PAGE_MARGIN, r=740 - REF_R, t=0, b=700 - REF_B, pad=0),
    paper_bgcolor="white", plot_bgcolor="white",
    font=dict(family=FONT, size=10, color="black"),
    showlegend=False, hovermode=False, bargap=0,
    xaxis=dict(range=[0, 384], tickvals=[18 + 24 * i for i in range(len(DAY_LABELS))],
               showticklabels=False, ticks="", showgrid=True, gridcolor="#c0c0c0", gridwidth=2,
               zeroline=False, showline=True, linecolor="black", linewidth=1.5),
    yaxis=dict(range=[Y_BOT, Y_TOP], showticklabels=False, ticks="", showgrid=False,
               zeroline=False, showline=True, linecolor="black", linewidth=1),
    yaxis2=dict(range=[Y_BOT + 45, Y_TOP + 45], overlaying="y", side="right",
                showticklabels=False, ticks="", showgrid=False, zeroline=False,
                showline=True, linecolor="black", linewidth=2),
    yaxis3=dict(range=[snow_y(REF_B), snow_y(REF_T)], overlaying="y", visible=False),
    shapes=shapes, annotations=annotations,
)

fig.write_html("out.html")
